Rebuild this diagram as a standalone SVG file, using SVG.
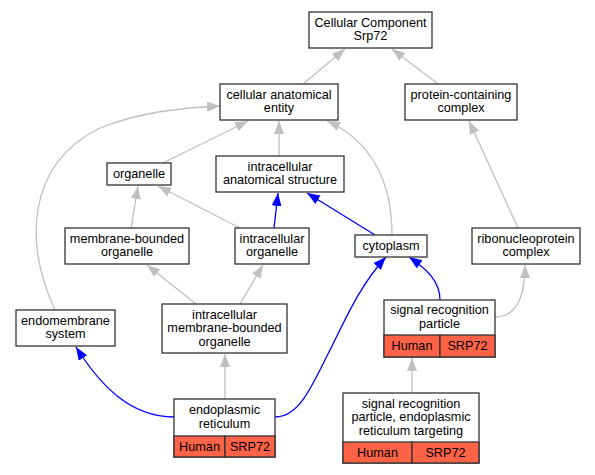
<svg xmlns="http://www.w3.org/2000/svg" width="595" height="475" viewBox="0 0 595 475">
<style>
.n rect{fill:#fff;stroke:#333;stroke-width:1.3}
.n rect.h{fill:#ff6347}
text{font-family:"Liberation Sans",Arial,sans-serif;font-size:12.7px;text-anchor:middle;fill:#000}
.e path{fill:none;stroke-width:1.3}
.g{stroke:#c0c0c0;marker-end:url(#ag)}
.b{stroke:#0000ff;marker-end:url(#ab)}
</style>
<defs>
<marker id="ag" markerUnits="userSpaceOnUse" markerWidth="14" markerHeight="11" refX="13" refY="5" orient="auto"><path d="M0,0 L13,5 L0,10 z" fill="#c0c0c0"/></marker>
<marker id="ab" markerUnits="userSpaceOnUse" markerWidth="14" markerHeight="11" refX="13" refY="5" orient="auto"><path d="M0,0 L13,5 L0,10 z" fill="#0000ff"/></marker>
</defs>
<rect width="595" height="475" fill="#fff"/>
<g id="edges" class="e">
<path class="g" d="M303,84 L345,49"/>
<path class="g" d="M438,84 L392,49"/>
<path class="g" d="M518,228 L469,121"/>
<path class="g" d="M163,163 L248,121"/>
<path class="g" d="M279,156 L279,121"/>
<path class="g" d="M392,235 C392,180 370,140 327,121"/>
<path class="g" d="M55,310 C25,245 25,165 100,128 C140,112 180,108 220,106"/>
<path class="g" d="M131,228 L138,186"/>
<path class="g" d="M240,228 L158,186"/>
<path class="b" d="M274,228 L278,193"/>
<path class="b" d="M375,235 L307,193"/>
<path class="g" d="M196,304 L147,265"/>
<path class="g" d="M240,304 L263,265"/>
<path class="g" d="M225,399 L225,354"/>
<path class="b" d="M174,417 C130,417 100,385 76,347"/>
<path class="b" d="M275,417 C300,417 312,385 330,350 C345,320 360,285 386,257"/>
<path class="b" d="M440,300 C440,282 428,270 409,257"/>
<path class="g" d="M495,317 C515,317 525,300 525,265"/>
<path class="g" d="M412,393 L412,358"/>
</g>
<g id="cc" class="n"><rect x="309" y="12" width="123" height="36"/><text x="370.5" y="26.5">Cellular Component</text><text x="370.5" y="40">Srp72</text></g>
<g id="cae" class="n"><rect x="220" y="84" width="118" height="36"/><text x="279" y="98.5">cellular anatomical</text><text x="279" y="112">entity</text></g>
<g id="pcc" class="n"><rect x="405" y="84" width="112" height="36"/><text x="461" y="98.5">protein-containing</text><text x="461" y="112">complex</text></g>
<g id="organelle" class="n"><rect x="107" y="163" width="64" height="22"/><text x="139" y="177.5">organelle</text></g>
<g id="ias" class="n"><rect x="216" y="156" width="128" height="36"/><text x="280" y="170.5">intracellular</text><text x="280" y="184">anatomical structure</text></g>
<g id="mbo" class="n"><rect x="65" y="228" width="124" height="36"/><text x="127" y="242.5">membrane-bounded</text><text x="127" y="256">organelle</text></g>
<g id="io" class="n"><rect x="235" y="228" width="74" height="36"/><text x="272" y="242.5">intracellular</text><text x="272" y="256">organelle</text></g>
<g id="cytoplasm" class="n"><rect x="355" y="235" width="72" height="22"/><text x="391" y="249.5">cytoplasm</text></g>
<g id="rnp" class="n"><rect x="472" y="228" width="108" height="36"/><text x="526" y="242.5">ribonucleoprotein</text><text x="526" y="256">complex</text></g>
<g id="ems" class="n"><rect x="16" y="310" width="99" height="36"/><text x="65.5" y="324.5">endomembrane</text><text x="65.5" y="338">system</text></g>
<g id="imbo" class="n"><rect x="162" y="304" width="125" height="49"/><text x="224.5" y="318.5">intracellular</text><text x="224.5" y="332">membrane-bounded</text><text x="224.5" y="345.5">organelle</text></g>
<g id="er" class="n"><rect x="174" y="399" width="101" height="58"/><rect class="h" x="174" y="436" width="51" height="21"/><rect class="h" x="225" y="436" width="50" height="21"/><text x="224.5" y="414">endoplasmic</text><text x="224.5" y="427.5">reticulum</text><text x="199.5" y="450.5">Human</text><text x="250" y="450.5">SRP72</text></g>
<g id="srp" class="n"><rect x="384" y="300" width="111" height="57"/><rect class="h" x="384" y="335" width="56" height="22"/><rect class="h" x="440" y="335" width="55" height="22"/><text x="439.5" y="314">signal recognition</text><text x="439.5" y="327.5">particle</text><text x="412" y="350">Human</text><text x="467.5" y="350">SRP72</text></g>
<g id="srper" class="n"><rect x="343" y="393" width="136" height="70"/><rect class="h" x="343" y="442" width="69" height="21"/><rect class="h" x="412" y="442" width="67" height="21"/><text x="411" y="407.5">signal recognition</text><text x="411" y="421">particle, endoplasmic</text><text x="411" y="434.5">reticulum targeting</text><text x="377.5" y="456.5">Human</text><text x="445.5" y="456.5">SRP72</text></g>
</svg>
